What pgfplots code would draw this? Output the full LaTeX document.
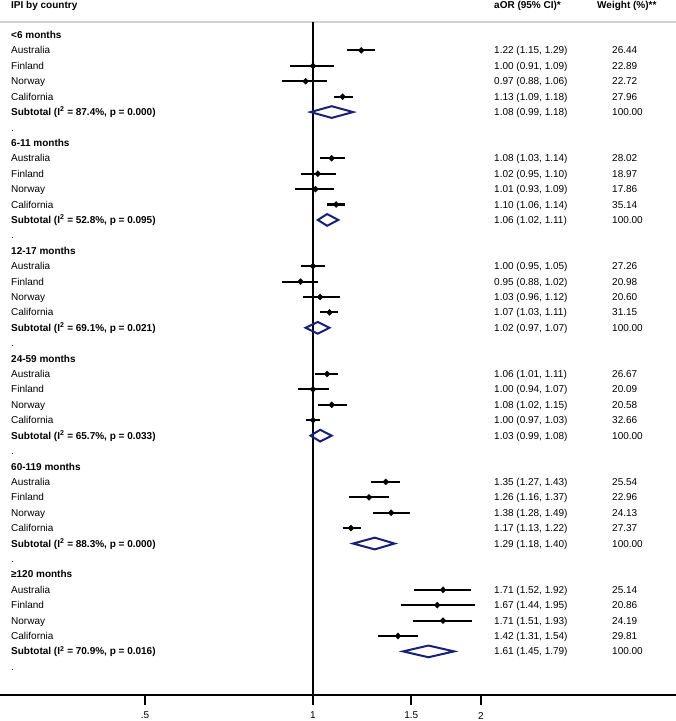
\documentclass[border=0pt]{standalone}
\usepackage{fontspec}
\setmainfont{Liberation Sans}
\usepackage{pgfplots}
\pgfplotsset{compat=1.18}
\definecolor{dia}{RGB}{24,32,120}
\definecolor{rulegray}{RGB}{210,210,210}

% one study: row, estimate, lower, upper
\newcommand{\study}[4]{%
  \addplot[black, line width=2.1pt] coordinates {(#3,#1) (#4,#1)};
  \addplot[black, only marks, mark=diamond*, mark size=3pt, mark options={xscale=1.3}] coordinates {(#2,#1)};
}
% text of one row: row, label, CI, weight
\newcommand{\trow}[4]{%
  \node[anchor=base west, inner sep=0pt] at (axis cs:11,#1) {#2};
  \node[anchor=base west, inner sep=0pt] at (axis cs:494,#1) {#3};
  \node[anchor=base west, inner sep=0pt] at (axis cs:612,#1) {#4};
}
\newcommand{\hrow}[2]{\node[anchor=base west, inner sep=0pt, font=\fontsize{10}{12}\selectfont\bfseries] at (axis cs:11,#1) {#2};}
\newcommand{\srow}[4]{%
  \node[anchor=base west, inner sep=0pt, font=\fontsize{10}{12}\selectfont\bfseries] at (axis cs:11,#1) {Subtotal (I\textsuperscript{2} = #2\%, p = #3)};
  \node[anchor=base west, inner sep=0pt] at (axis cs:494,#1) {#4};
  \node[anchor=base west, inner sep=0pt] at (axis cs:612,#1) {100.00};
}
\newcommand{\drow}[1]{\node[anchor=base west, inner sep=0pt] at (axis cs:11,#1) {.};}

\begin{document}
\begin{tikzpicture}[font=\fontsize{10}{12}\selectfont]
\path[use as bounding box] (0,-26pt) rectangle (676pt,695pt);

\begin{axis}[
  scale only axis, width=676pt, height=673pt,
  xmode=log, xmin=0.2749, xmax=4.471,
  ymin=-0.844, ymax=42.83, y dir=reverse,
  axis x line*=bottom, axis y line=none,
  x axis line style={line width=1.4pt, -},
  xtick={0.5,1,1.5,2}, xticklabels={.5,1,1.5,2},
  xminorticks=false,
  tick align=outside, major tick length=10pt,
  tick style={black, line width=1.6pt},
  xticklabel style={yshift=-3.5pt},
  /pgf/number format/assume math mode=true,
  clip=false,
]
% rule under the header and the line of no effect
\addplot[rulegray, line width=2pt] coordinates {(0.2749,-0.844) (4.471,-0.844)};
\addplot[black, line width=1.7pt] coordinates {(1,-0.844) (1,42.83)};

% <6 months
\study{1}{1.22}{1.15}{1.29}
\study{2}{1.00}{0.91}{1.09}
\study{3}{0.97}{0.88}{1.06}
\study{4}{1.13}{1.09}{1.18}
\addplot[dia, line width=2pt] coordinates {(0.99,5) (1.08,4.62) (1.18,5) (1.08,5.38)} -- cycle;
% 6-11 months
\study{8}{1.08}{1.03}{1.14}
\study{9}{1.02}{0.95}{1.10}
\study{10}{1.01}{0.93}{1.09}
\study{11}{1.10}{1.06}{1.14}
\addplot[dia, line width=2pt] coordinates {(1.02,12) (1.06,11.62) (1.11,12) (1.06,12.38)} -- cycle;
% 12-17 months
\study{15}{1.00}{0.95}{1.05}
\study{16}{0.95}{0.88}{1.02}
\study{17}{1.03}{0.96}{1.12}
\study{18}{1.07}{1.03}{1.11}
\addplot[dia, line width=2pt] coordinates {(0.97,19) (1.02,18.62) (1.07,19) (1.02,19.38)} -- cycle;
% 24-59 months
\study{22}{1.06}{1.01}{1.11}
\study{23}{1.00}{0.94}{1.07}
\study{24}{1.08}{1.02}{1.15}
\study{25}{1.00}{0.97}{1.03}
\addplot[dia, line width=2pt] coordinates {(0.99,26) (1.03,25.62) (1.08,26) (1.03,26.38)} -- cycle;
% 60-119 months
\study{29}{1.35}{1.27}{1.43}
\study{30}{1.26}{1.16}{1.37}
\study{31}{1.38}{1.28}{1.49}
\study{32}{1.17}{1.13}{1.22}
\addplot[dia, line width=2pt] coordinates {(1.18,33) (1.29,32.62) (1.40,33) (1.29,33.38)} -- cycle;
% >=120 months
\study{36}{1.71}{1.52}{1.92}
\study{37}{1.67}{1.44}{1.95}
\study{38}{1.71}{1.51}{1.93}
\study{39}{1.42}{1.31}{1.54}
\addplot[dia, line width=2pt] coordinates {(1.45,40) (1.61,39.62) (1.79,40) (1.61,40.38)} -- cycle;
\end{axis}

% text columns, on an axis in pixel units
\begin{axis}[
  scale only axis, width=676pt, height=673pt,
  xmin=0, xmax=676, ymin=-1.074, ymax=42.60, y dir=reverse,
  hide axis, clip=false,
]
\node[anchor=base west, inner sep=0pt, font=\fontsize{10}{12}\selectfont\bfseries] at (axis cs:11,-1.95) {IPI by country};
\node[anchor=base west, inner sep=0pt, font=\fontsize{10}{12}\selectfont\bfseries] at (axis cs:494,-1.95) {aOR (95\% CI)*};
\node[anchor=base west, inner sep=0pt, font=\fontsize{10}{12}\selectfont\bfseries] at (axis cs:597,-1.95) {Weight (\%)**};

\hrow{0}{<6 months}
\trow{1}{Australia}{1.22 (1.15, 1.29)}{26.44}
\trow{2}{Finland}{1.00 (0.91, 1.09)}{22.89}
\trow{3}{Norway}{0.97 (0.88, 1.06)}{22.72}
\trow{4}{California}{1.13 (1.09, 1.18)}{27.96}
\srow{5}{87.4}{0.000}{1.08 (0.99, 1.18)}
\drow{6}

\hrow{7}{6-11 months}
\trow{8}{Australia}{1.08 (1.03, 1.14)}{28.02}
\trow{9}{Finland}{1.02 (0.95, 1.10)}{18.97}
\trow{10}{Norway}{1.01 (0.93, 1.09)}{17.86}
\trow{11}{California}{1.10 (1.06, 1.14)}{35.14}
\srow{12}{52.8}{0.095}{1.06 (1.02, 1.11)}
\drow{13}

\hrow{14}{12-17 months}
\trow{15}{Australia}{1.00 (0.95, 1.05)}{27.26}
\trow{16}{Finland}{0.95 (0.88, 1.02)}{20.98}
\trow{17}{Norway}{1.03 (0.96, 1.12)}{20.60}
\trow{18}{California}{1.07 (1.03, 1.11)}{31.15}
\srow{19}{69.1}{0.021}{1.02 (0.97, 1.07)}
\drow{20}

\hrow{21}{24-59 months}
\trow{22}{Australia}{1.06 (1.01, 1.11)}{26.67}
\trow{23}{Finland}{1.00 (0.94, 1.07)}{20.09}
\trow{24}{Norway}{1.08 (1.02, 1.15)}{20.58}
\trow{25}{California}{1.00 (0.97, 1.03)}{32.66}
\srow{26}{65.7}{0.033}{1.03 (0.99, 1.08)}
\drow{27}

\hrow{28}{60-119 months}
\trow{29}{Australia}{1.35 (1.27, 1.43)}{25.54}
\trow{30}{Finland}{1.26 (1.16, 1.37)}{22.96}
\trow{31}{Norway}{1.38 (1.28, 1.49)}{24.13}
\trow{32}{California}{1.17 (1.13, 1.22)}{27.37}
\srow{33}{88.3}{0.000}{1.29 (1.18, 1.40)}
\drow{34}

\hrow{35}{≥120 months}
\trow{36}{Australia}{1.71 (1.52, 1.92)}{25.14}
\trow{37}{Finland}{1.67 (1.44, 1.95)}{20.86}
\trow{38}{Norway}{1.71 (1.51, 1.93)}{24.19}
\trow{39}{California}{1.42 (1.31, 1.54)}{29.81}
\srow{40}{70.9}{0.016}{1.61 (1.45, 1.79)}
\drow{41}
\end{axis}
\end{tikzpicture}
\end{document}
